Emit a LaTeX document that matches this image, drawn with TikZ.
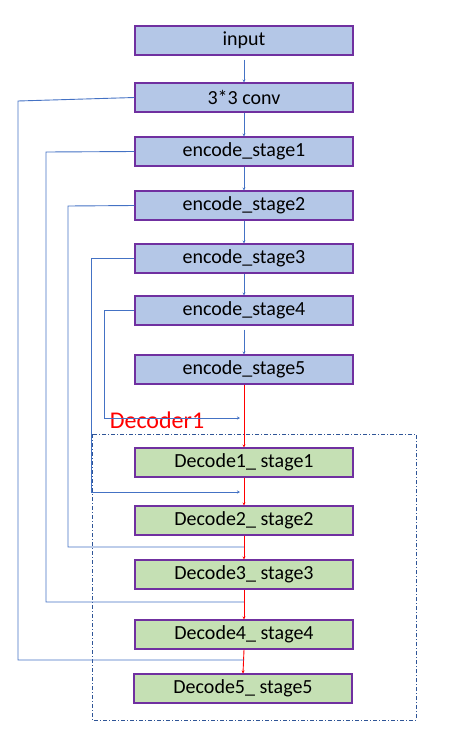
\documentclass[tikz,border=0pt]{standalone}
\usepackage{fontspec}
\setmainfont{Carlito}
\usetikzlibrary{arrows.meta}
\definecolor{encfill}{HTML}{B4C7E7}
\definecolor{decfill}{HTML}{C5E0B4}
\definecolor{boxline}{HTML}{7030A0}
\definecolor{skipblue}{HTML}{4472C4}
\definecolor{frameblue}{HTML}{2F5597}
\tikzset{
  enc/.style={draw=boxline, line width=1.1pt, fill=encfill, minimum width=218pt, minimum height=29pt, inner sep=0pt, font=\fontsize{20}{22}\selectfont},
  dec/.style={enc, fill=decfill},
  flow/.style={skipblue, line width=0.9pt, -{Stealth[length=3pt,width=3pt]}},
  redflow/.style={red, line width=0.9pt, -{Stealth[length=3pt,width=3pt]}},
  skip/.style={skipblue, line width=0.9pt},
  skiparrow/.style={skip, -{Stealth[length=3pt,width=3pt]}},
}
\begin{document}
\begin{tikzpicture}[x=1pt,y=-1pt]
\useasboundingbox (0,0) rectangle (452,739);
% frame
\draw[frameblue, line width=0.7pt, dash pattern=on 4pt off 2pt on 1pt off 2pt] (92,434) rectangle (416,720);
\node[red, font=\fontsize{24}{26}\selectfont] (dlabel) at (157,420) {Decoder1};
% boxes
\node[enc] (input) at (244,40.5) {input};
\node[enc] (conv) at (244,97.5) {3*3 conv};
\node[enc] (e1) at (244,151.5) {encode\_stage1};
\node[enc] (e2) at (244,205.5) {encode\_stage2};
\node[enc] (e3) at (244,258.5) {encode\_stage3};
\node[enc] (e4) at (244,310.5) {encode\_stage4};
\node[enc] (e5) at (244,369.5) {encode\_stage5};
\node[dec] (d1) at (244,462.5) {Decode1\_ stage1};
\node[dec] (d2) at (244,520.5) {Decode2\_ stage2};
\node[dec] (d3) at (244,574.5) {Decode3\_ stage3};
\node[dec] (d4) at (244,634.5) {Decode4\_ stage4};
\node[dec] (d5) at (243,688.5) {Decode5\_ stage5};
% encoder flow
\draw[flow] ([yshift=-4pt]input.south) -- (conv.north);
\draw[flow] (conv.south) -- (e1.north);
\draw[flow] (e1.south) -- (e2.north);
\draw[flow] (e2.south) -- (e3.north);
\draw[flow] (e3.south) -- (e4.north);
\draw[flow] ([yshift=-4pt]e4.south) -- (e5.north);
% decoder flow
\draw[redflow] (e5.south) -- (d1.north);
\draw[redflow] (d1.south) -- (d2.north);
\draw[redflow] (d2.south) -- (d3.north);
\draw[redflow] (d3.south) -- (d4.north);
\draw[redflow] (d4.south) -- (d5.north);
% skip corners
\coordinate (c0) at (18,101);
\coordinate (c1) at (46,152);
\coordinate (c2) at (68,206);
\coordinate (c3) at (91,258.5);
\coordinate (c4) at (104,310.5);
\coordinate (k0) at (244,660);
\coordinate (k1) at (244,602);
\coordinate (k2) at (244,547);
\coordinate (k3) at (240,492);
\coordinate (k4) at (240,418);
\draw[skip] (conv.west) -- (c0) |- (k0);
\draw[skip] (e1.west) -- (c1) |- (k1);
\draw[skip] (e2.west) -- (c2) |- (k2);
\draw[skiparrow] (e3.west) -- (c3) |- (k3);
\draw[skiparrow] (e4.west) -- (c4) |- (k4);
\end{tikzpicture}
\end{document}
